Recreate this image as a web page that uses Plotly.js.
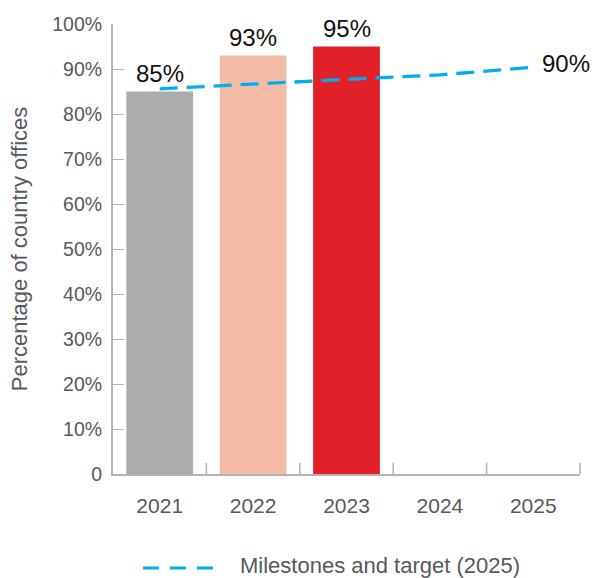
<!DOCTYPE html>
<html>
<head>
<meta charset="utf-8">
<script src="https://cdn.plot.ly/plotly-3.0.1.min.js"></script>
<style>html,body{margin:0;padding:0;background:#fff;}#chart{width:595px;height:578px;}</style>
</head>
<body>
<div id="chart"></div>
<script>
const years = ['2021', '2022', '2023', '2024', '2025'];
const actualValues = [85, 93, 95, null, null];
const barColors = ['#ABACAE', '#F4BBA7', '#E2202A', '#ABACAE', '#ABACAE'];
const barLabels = ['85%', '93%', '95%', '', ''];
const milestoneValues = [85.6, 86.7, 87.7, 88.7, 90.4];
const targetLabel = '90%';
const yTickVals = [0, 10, 20, 30, 40, 50, 60, 70, 80, 90, 100];
const yTickText = ['0', '10%', '20%', '30%', '40%', '50%', '60%', '70%', '80%', '90%', '100%'];
const yTitle = 'Percentage of country offices';
const legendText = 'Milestones and target (2025)';

const FONT = 'Liberation Sans, Arial, sans-serif';
const GREY = '#58595B';
const AXIS = '#B3B3B5';
const BLUE = '#00AEEF';

const traces = [
  {
    type: 'bar', x: years, y: actualValues,
    marker: {color: barColors},
    hoverinfo: 'skip', showlegend: false
  },
  {
    type: 'scatter', mode: 'lines', x: years, y: milestoneValues,
    line: {color: BLUE, width: 3.3, dash: '18px,9px'},
    hoverinfo: 'skip', showlegend: false
  }
];

const annotations = [];
years.forEach((yr, i) => {
  if (barLabels[i]) {
    annotations.push({
      x: i, y: actualValues[i], xref: 'x', yref: 'y',
      text: barLabels[i], showarrow: false,
      yanchor: 'middle', yshift: 18,
      font: {family: FONT, size: 24, color: '#111111'}
    });
  }
});
annotations.push({
  x: years.length - 1, y: milestoneValues[milestoneValues.length - 1],
  xref: 'x', yref: 'y', text: targetLabel, showarrow: false,
  xanchor: 'left', yanchor: 'middle', xshift: 7, yshift: 4,
  font: {family: FONT, size: 24, color: '#111111'}
});
annotations.push({
  x: 0.268, y: -0.204, xref: 'paper', yref: 'paper',
  text: legendText, showarrow: false, xanchor: 'left', yanchor: 'middle',
  font: {family: FONT, size: 22, color: GREY}
});

const layout = {
  width: 595, height: 578,
  margin: {l: 113, r: 15, t: 24, b: 104},
  paper_bgcolor: '#ffffff', plot_bgcolor: '#ffffff',
  bargap: 0.285,
  font: {family: FONT, color: GREY},
  xaxis: {
    type: 'category', range: [-0.5, 4.5], autorange: false,
    showgrid: false, zeroline: false,
    showline: true, linecolor: AXIS, linewidth: 2,
    ticks: '', tickfont: {family: FONT, size: 21, color: GREY},
    ticklabelstandoff: 12
  },
  yaxis: {
    range: [0, 100], autorange: false, showgrid: false, zeroline: false,
    showline: true, linecolor: AXIS, linewidth: 2,
    ticks: 'inside', ticklen: 11, tickcolor: AXIS, tickwidth: 1,
    tickvals: yTickVals, ticktext: yTickText,
    tickfont: {family: FONT, size: 19.5, color: GREY},
    ticklabelstandoff: 5,
    title: {text: yTitle, font: {family: FONT, size: 22, color: GREY}, standoff: 19}
  },
  shapes: [
    {type: 'line', xref: 'paper', yref: 'paper', x0: 0.064, x1: 0.214, y0: -0.209, y1: -0.209,
     line: {color: BLUE, width: 3, dash: '16px,11px'}}
  ].concat([0.2, 0.4, 0.6, 0.8, 1.0].map(p => ({
    type: 'line', xref: 'paper', yref: 'paper', x0: p, x1: p, y0: 0, y1: 0.025,
    line: {color: AXIS, width: 1.5}
  }))),
  annotations: annotations
};

Plotly.newPlot('chart', traces, layout, {staticPlot: true, displayModeBar: false});
</script>
</body>
</html>
